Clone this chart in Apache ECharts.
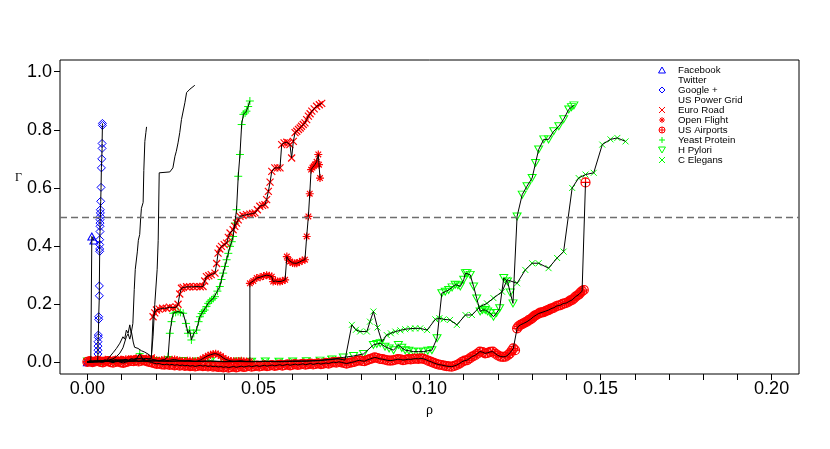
<!DOCTYPE html>
<html><head><meta charset="utf-8">
<script src="https://cdn.jsdelivr.net/npm/echarts@6/dist/echarts.min.js"></script>
<style>html,body{margin:0;padding:0;background:#fff}#c{width:830px;height:449px}</style>
</head><body><div id="c"></div><script>
// ---- tick values ----
const xTickValues = [0,0.01,0.02,0.03,0.04,0.05,0.06,0.07,0.08,0.09,0.1,0.11,0.12,0.13,0.14,0.15,0.16,0.17,0.18,0.19,0.2];
const xLabelValues = [0,0.05,0.1,0.15,0.2];
const yTickValues = [0,0.2,0.4,0.6,0.8,1.0];
const threshold = 0.5;

// ---- series data [rho, Gamma] ----
const facebook = [[0,0],[0.0005,0.002],[0.001,0.001],[0.0013,0.004],[0.0013,0.433],[0.0019,0.419]];
const twitter = [[0,0],[0.002,0.002],[0.004,0.001],[0.0055,0.006],[0.0065,0.019],[0.0075,0.033],[0.0085,0.048],[0.0095,0.066],[0.0104,0.088],[0.0109,0.08],[0.0114,0.111],[0.0119,0.1],[0.0124,0.129],[0.0128,0.1],[0.0133,0.134],[0.0137,0.25],[0.014,0.32],[0.0146,0.38],[0.0149,0.42],[0.0153,0.44],[0.0156,0.5],[0.0158,0.53],[0.0163,0.55],[0.0165,0.66],[0.0168,0.76],[0.0171,0.79],[0.0173,0.81]];
const googlePlus = [[0,0.001],[0.0015,0.002],[0.003,0.002],[0.0031,0.029],[0.0031,0.042],[0.0031,0.056],[0.0031,0.071],[0.0032,0.086],[0.0032,0.094],[0.0033,0.148],[0.0033,0.157],[0.0035,0.229],[0.0035,0.263],[0.0036,0.382],[0.0036,0.39],[0.0036,0.405],[0.0036,0.422],[0.0037,0.45],[0.0037,0.468],[0.0037,0.479],[0.0037,0.491],[0.0038,0.502],[0.0038,0.514],[0.0038,0.525],[0.0039,0.554],[0.004,0.602],[0.0041,0.669],[0.0042,0.70],[0.0043,0.736],[0.0043,0.753],[0.0044,0.815],[0.0044,0.822]];
const usPowerGrid = [[0,0],[0.003,0.002],[0.005,0.005],[0.0075,0.012],[0.0085,0.02],[0.0095,0.032],[0.0104,0.05],[0.0114,0.088],[0.0119,0.098],[0.0124,0.08],[0.0129,0.104],[0.0134,0.07],[0.0138,0.052],[0.0148,0.048],[0.0158,0.04],[0.0168,0.035],[0.0178,0.028],[0.0187,0.02],[0.0192,0.09],[0.0197,0.2],[0.0204,0.32],[0.0207,0.42],[0.021,0.652],[0.0241,0.655],[0.025,0.669],[0.0256,0.709],[0.026,0.726],[0.0265,0.755],[0.027,0.79],[0.0275,0.835],[0.0285,0.893],[0.029,0.928],[0.030,0.94],[0.0314,0.953]];
const euroRoad = [[0,0.002],[0.001,0.005],[0.002,0.003],[0.003,0.006],[0.004,0.004],[0.005,0.007],[0.006,0.005],[0.007,0.008],[0.008,0.006],[0.009,0.009],[0.010,0.007],[0.011,0.01],[0.012,0.008],[0.013,0.012],[0.014,0.01],[0.015,0.013],[0.016,0.011],[0.017,0.014],[0.018,0.012],[0.0187,0.015],
[0.0192,0.157],[0.0197,0.17],[0.0202,0.18],[0.021,0.183],[0.022,0.186],[0.0231,0.186],[0.024,0.19],[0.025,0.188],[0.026,0.19],[0.0265,0.2],[0.027,0.235],[0.0275,0.255],[0.028,0.258],[0.029,0.26],[0.0299,0.26],[0.031,0.26],[0.032,0.261],[0.033,0.26],[0.0338,0.261],[0.0343,0.28],[0.0348,0.295],[0.0355,0.298],[0.0362,0.302],[0.0373,0.307],[0.0378,0.34],[0.0382,0.376],[0.0387,0.39],[0.0392,0.399],[0.04,0.405],[0.0407,0.41],[0.0412,0.43],[0.0417,0.445],[0.0426,0.456],[0.0431,0.468],[0.0436,0.479],[0.0441,0.49],[0.0446,0.502],[0.0455,0.505],[0.0465,0.508],[0.0475,0.51],[0.0483,0.512],[0.049,0.514],[0.0497,0.525],[0.0504,0.537],[0.0512,0.54],[0.0519,0.542],[0.0524,0.56],[0.0529,0.588],[0.0534,0.62],[0.0539,0.657],[0.0548,0.669],[0.0556,0.669],[0.0563,0.669],[0.0568,0.749],[0.0575,0.755],[0.0583,0.757],[0.0588,0.755],[0.0592,0.749],[0.0597,0.703],[0.0602,0.76],[0.0607,0.79],[0.0612,0.795],[0.0617,0.801],[0.0622,0.806],[0.0626,0.812],[0.0631,0.818],[0.0636,0.824],[0.0641,0.835],[0.0646,0.847],[0.0651,0.855],[0.0656,0.864],[0.0663,0.872],[0.067,0.881],[0.0678,0.886],[0.0685,0.891]];
const openFlight = [[0,0.002],[0.00075,0.005],[0.0015,0.004],[0.00225,0.006],[0.003,0.003],[0.00375,0.007],[0.0045,0.006],[0.00525,0.009],[0.006,0.004],[0.00675,0.008],[0.0075,0.007],[0.00825,0.01],[0.009,0.005],[0.00975,0.009],[0.0105,0.008],[0.01125,0.011],[0.012,0.006],[0.01275,0.012],[0.0135,0.01],[0.01425,0.014],[0.015,0.012],[0.01575,0.015],[0.0165,0.009],[0.01725,0.013],[0.018,0.011],[0.01875,0.012],[0.0195,0.008],[0.02025,0.007],[0.021,0.006],[0.02175,0.008],[0.0225,0.009],[0.02325,0.006],[0.024,0.007],[0.02475,0.009],[0.0255,0.01],[0.02625,0.008],[0.027,0.006],[0.02775,0.005],[0.0285,0.004],[0.02925,0.006],[0.03,0.006],[0.03075,0.004],[0.0315,0.003],[0.03225,0.005],[0.033,0.008],[0.03375,0.013],[0.0345,0.018],[0.03525,0.023],[0.036,0.026],[0.03675,0.029],[0.0375,0.03],[0.03825,0.027],[0.039,0.022],[0.03975,0.015],[0.0405,0.01],[0.04125,0.007],[0.042,0.005],[0.04275,0.004],[0.0435,0.004],[0.04425,0.005],[0.045,0.006],[0.04575,0.004],[0.0465,0.003],[0.0475,0.004],
[0.0475,0.272],[0.0485,0.28],[0.0495,0.29],[0.0505,0.293],[0.0515,0.297],[0.0524,0.30],[0.0532,0.298],[0.0539,0.295],[0.0543,0.278],[0.055,0.28],[0.0556,0.278],[0.0563,0.278],[0.057,0.28],[0.0578,0.284],[0.0583,0.364],[0.0588,0.352],[0.0592,0.347],[0.06,0.342],[0.0606,0.341],[0.0612,0.341],[0.062,0.345],[0.0628,0.35],[0.0636,0.353],[0.0641,0.433],[0.0646,0.502],[0.065,0.58],[0.0654,0.663],[0.0658,0.67],[0.0662,0.675],[0.0665,0.68],[0.067,0.69],[0.0675,0.715],[0.0677,0.68],[0.068,0.634]];
const usAirports = [[0,0.002],[0.00075,0.004],[0.0015,0.001],[0.00225,0.003],[0.003,0.005],[0.00375,0.002],[0.0045,0.0],[0.00525,0.003],[0.006,0.004],[0.00675,0.001],[0.0075,-0.001],[0.00825,0.002],[0.009,0.003],[0.00975,0.0],[0.0105,-0.002],[0.01125,0.001],[0.012,0.003],[0.01275,0.005],[0.0135,0.004],[0.01425,0.007],[0.015,0.003],[0.01575,0.006],[0.0165,0.008],[0.01725,0.004],[0.018,0.002],[0.01875,0.0],[0.0195,-0.003],[0.02025,-0.005],[0.021,-0.004],[0.02175,-0.007],[0.0225,-0.008],[0.02325,-0.006],[0.024,-0.009],[0.02475,-0.007],[0.0255,-0.01],[0.02625,-0.008],[0.027,-0.011],[0.02775,-0.009],[0.0285,-0.012],[0.02925,-0.01],[0.03,-0.013],[0.03075,-0.011],[0.0315,-0.014],[0.03225,-0.012],[0.033,-0.01],[0.03375,-0.013],[0.0345,-0.011],[0.03525,-0.014],[0.036,-0.012],[0.03675,-0.015],[0.0375,-0.013],[0.03825,-0.016],[0.039,-0.014],[0.03975,-0.017],[0.0405,-0.015],[0.04125,-0.018],[0.042,-0.016],[0.04275,-0.014],[0.0435,-0.017],[0.04425,-0.015],[0.045,-0.013],[0.04575,-0.016],[0.0465,-0.014],[0.04725,-0.012],[0.048,-0.015],[0.04875,-0.013],[0.0495,-0.011],[0.05025,-0.014],[0.051,-0.012],[0.05175,-0.01],[0.0525,-0.013],[0.05325,-0.011],[0.054,-0.009],[0.05475,-0.012],[0.0555,-0.01],[0.05625,-0.008],[0.057,-0.011],[0.05775,-0.009],[0.0585,-0.007],[0.05925,-0.01],[0.06,-0.008],[0.06075,-0.006],[0.0615,-0.009],[0.06225,-0.007],[0.063,-0.005],[0.06375,-0.008],[0.0645,-0.006],[0.06525,-0.004],[0.066,-0.007],[0.06675,-0.005],[0.0675,-0.003],[0.06825,-0.006],[0.069,-0.004],[0.06975,-0.002],[0.0705,-0.004],[0.07125,-0.001],[0.072,0.001],[0.07275,-0.001],[0.0735,0.002],[0.07425,0.0],[0.075,-0.002],[0.07575,-0.004],[0.0765,-0.002],[0.07725,0.0],[0.078,0.002],[0.07875,0.005],[0.0795,0.007],[0.08025,0.005],[0.081,0.004],[0.08175,0.008],[0.0825,0.011],[0.08325,0.014],[0.084,0.017],[0.08475,0.015],[0.0855,0.012],[0.08625,0.011],[0.087,0.009],[0.08775,0.007],[0.0885,0.006],[0.08925,0.007],[0.09,0.009],[0.09075,0.011],[0.0915,0.01],[0.09225,0.008],[0.093,0.009],[0.09375,0.011],[0.0945,0.01],[0.09525,0.012],[0.096,0.013],[0.09675,0.012],[0.0975,0.014],[0.09825,0.012],[0.099,0.009],[0.09975,0.005],[0.1005,0.002],[0.10125,-0.002],[0.102,-0.005],[0.10275,-0.008],[0.1035,-0.009],[0.10425,-0.011],[0.105,-0.013],[0.10575,-0.014],[0.1065,-0.015],[0.10725,-0.012],[0.108,-0.009],[0.10875,-0.004],[0.1095,0.002],[0.11025,0.006],[0.111,0.008],[0.11175,0.014],[0.1125,0.02],[0.11325,0.024],[0.114,0.03],[0.11475,0.037],[0.1155,0.035],[0.11625,0.031],[0.117,0.033],[0.11775,0.036],[0.1185,0.037],[0.11925,0.03],[0.12,0.024],[0.12075,0.02],[0.1215,0.019],[0.12225,0.02],[0.123,0.026],[0.1235,0.031],[0.124,0.04],[0.1245,0.048],[0.125,0.042],
[0.1256,0.117],[0.126,0.124],[0.1266,0.129],[0.1271,0.132],[0.1275,0.134],[0.128,0.138],[0.1285,0.14],[0.129,0.145],[0.1295,0.148],[0.13,0.152],[0.1304,0.157],[0.1308,0.161],[0.1312,0.163],[0.1319,0.168],[0.1324,0.171],[0.1329,0.172],[0.1334,0.173],[0.1339,0.176],[0.1344,0.179],[0.1348,0.18],[0.1353,0.184],[0.1358,0.186],[0.1364,0.188],[0.137,0.193],[0.1376,0.195],[0.1383,0.197],[0.1389,0.201],[0.1395,0.203],[0.1401,0.205],[0.1407,0.209],[0.1412,0.213],[0.1417,0.215],[0.1422,0.22],[0.1427,0.226],[0.1432,0.23],[0.1437,0.234],[0.1441,0.24],[0.1446,0.245],[0.1451,0.249],[0.1456,0.619]];
const yeastProtein = [[0,0.003],[0.002,0.004],[0.004,0.003],[0.006,0.005],[0.008,0.004],[0.010,0.006],[0.012,0.004],[0.014,0.006],[0.0153,0.03],[0.0165,0.005],[0.018,0.006],[0.0195,0.009],[0.021,0.005],[0.0225,0.009],[0.0236,0.02],[0.0241,0.1],[0.0246,0.14],[0.0251,0.169],[0.0258,0.172],[0.0265,0.175],[0.0272,0.172],[0.028,0.169],[0.0288,0.134],[0.0294,0.1],[0.0299,0.111],[0.0304,0.077],[0.0311,0.1],[0.0319,0.111],[0.0325,0.14],[0.0329,0.157],[0.0334,0.168],[0.0338,0.175],[0.0343,0.18],[0.0348,0.192],[0.0353,0.203],[0.0358,0.21],[0.0363,0.215],[0.0368,0.22],[0.0373,0.226],[0.038,0.245],[0.0387,0.261],[0.0392,0.285],[0.0397,0.307],[0.0402,0.33],[0.0407,0.353],[0.0412,0.375],[0.0417,0.399],[0.0422,0.415],[0.0426,0.433],[0.0431,0.479],[0.0436,0.525],[0.0441,0.64],[0.0446,0.715],[0.0451,0.818],[0.0456,0.853],[0.0461,0.858],[0.0465,0.864],[0.047,0.88],[0.0475,0.899]];
const hPylori = [[0,0.003],[0.004,0.004],[0.008,0.003],[0.012,0.005],[0.016,0.004],[0.02,0.005],[0.024,0.004],[0.028,0.005],[0.032,0.003],[0.036,0.004],[0.04,0.002],[0.044,0.003],[0.048,0.002],[0.052,0.003],[0.056,0.002],[0.06,0.003],[0.064,0.004],[0.068,0.006],[0.0715,0.01],[0.0748,0.017],[0.0778,0.022],[0.0807,0.029],[0.0836,0.06],[0.0846,0.063],[0.0856,0.066],[0.087,0.054],[0.0882,0.048],[0.0895,0.042],[0.0909,0.06],[0.0919,0.05],[0.0929,0.042],[0.094,0.04],[0.0953,0.037],[0.0968,0.037],[0.0982,0.037],[0.0995,0.04],[0.1007,0.042],[0.1022,0.083],[0.1036,0.238],[0.1046,0.243],[0.1056,0.249],[0.1066,0.258],[0.1075,0.267],[0.1083,0.265],[0.109,0.261],[0.11,0.284],[0.1105,0.307],[0.111,0.307],[0.1119,0.301],[0.1129,0.261],[0.1138,0.22],[0.1148,0.175],[0.1155,0.18],[0.1163,0.18],[0.117,0.175],[0.1178,0.169],[0.1187,0.157],[0.1196,0.17],[0.1205,0.186],[0.1217,0.29],[0.1228,0.278],[0.1236,0.24],[0.1244,0.203],[0.1256,0.502],[0.1271,0.577],[0.1285,0.606],[0.13,0.634],[0.131,0.686],[0.1319,0.732],[0.1334,0.767],[0.1348,0.767],[0.1363,0.795],[0.1378,0.812],[0.1392,0.836],[0.1407,0.87],[0.1415,0.878],[0.1422,0.884]];
const cElegans = [[0,0.003],[0.004,0.004],[0.008,0.003],[0.012,0.005],[0.016,0.004],[0.02,0.005],[0.024,0.004],[0.028,0.005],[0.032,0.004],[0.036,0.005],[0.04,0.003],[0.044,0.004],[0.048,0.003],[0.052,0.004],[0.056,0.003],[0.06,0.005],[0.064,0.005],[0.068,0.007],[0.071,0.011],[0.0733,0.012],[0.0753,0.008],[0.0773,0.129],[0.0785,0.112],[0.0797,0.106],[0.0817,0.106],[0.0826,0.14],[0.0836,0.175],[0.0848,0.12],[0.0861,0.071],[0.0875,0.094],[0.0887,0.1],[0.09,0.106],[0.0915,0.11],[0.0929,0.114],[0.0944,0.116],[0.0958,0.117],[0.0973,0.117],[0.0993,0.111],[0.1017,0.148],[0.1029,0.152],[0.1041,0.148],[0.106,0.146],[0.108,0.129],[0.1105,0.163],[0.1124,0.163],[0.1148,0.192],[0.1168,0.203],[0.1187,0.221],[0.1212,0.243],[0.1227,0.284],[0.1256,0.272],[0.128,0.318],[0.13,0.341],[0.1319,0.341],[0.1348,0.324],[0.1373,0.359],[0.1392,0.381],[0.1417,0.6],[0.1436,0.634],[0.1456,0.646],[0.148,0.652],[0.1505,0.749],[0.1529,0.767],[0.1549,0.772],[0.1573,0.76]];

const legendNames = ['Facebook','Twitter','Google +','US Power Grid','Euro Road','Open Flight','US Airports','Yeast Protein','H Pylori','C Elegans'];

// ---- styling ----
const BLUE = '#0000ff', RED = '#ff0000', GREEN = '#00ff00';
const SYM = {
  triUp: 'path://M5,0L10,8.66L0,8.66Z',
  triDown: 'path://M0,0L10,0L5,8.66Z',
  diamond: 'path://M5,0L10,5L5,10L0,5Z',
  cross: 'path://M0,0L10,10M10,0L0,10',
  plus: 'path://M5,0L5,10M0,5L10,5',
  star: 'path://M5,0L5,10M0,5L10,5M1.5,1.5L8.5,8.5M8.5,1.5L1.5,8.5',
  circlePlus: 'path://M0,5A5,5,0,1,1,10,5A5,5,0,1,1,0,5ZM5,0L5,10M0,5L10,5',
  none: 'none'
};
// draw order (lineFirst: black line drawn under the markers)
const layers = [
  {name:'Yeast Protein', data: yeastProtein, sym: SYM.plus, size:[8,8], color: GREEN, bw: 1},
  {name:'H Pylori', data: hPylori, sym: SYM.triDown, size:[8,7], color: GREEN, bw: 1},
  {name:'C Elegans', data: cElegans, sym: SYM.cross, size:[6,6], color: GREEN, bw: 1},
  {name:'Twitter', data: twitter, sym: null},
  {name:'US Power Grid', data: usPowerGrid, sym: null},
  {name:'Facebook', data: facebook, sym: SYM.triUp, size:[8,7], color: BLUE, bw: 1, lineFirst: true},
  {name:'Google +', data: googlePlus, sym: SYM.diamond, size:[8,8], color: BLUE, bw: 1, lineFirst: true},
  {name:'Euro Road', data: euroRoad, sym: SYM.cross, size:[7,7], color: RED, bw: 1.2},
  {name:'Open Flight', data: openFlight, sym: SYM.star, size:[8,8], color: RED, bw: 1.2},
  {name:'US Airports', data: usAirports, sym: SYM.circlePlus, size:[9,9], color: RED, bw: 1.2}
];
const legendIcon = {
  'Facebook':[SYM.triUp,BLUE],'Twitter':[SYM.none,'#000'],'Google +':[SYM.diamond,BLUE],'US Power Grid':[SYM.none,'#000'],
  'Euro Road':[SYM.cross,RED],'Open Flight':[SYM.star,RED],'US Airports':[SYM.circlePlus,RED],
  'Yeast Protein':[SYM.plus,GREEN],'H Pylori':[SYM.triDown,GREEN],'C Elegans':[SYM.cross,GREEN]
};

const series = [];
layers.forEach((L, i) => {
  const lineSeries = {
    name: L.sym ? L.name + ' line' : L.name, type: 'line', data: L.data, symbol: 'none', showSymbol: false,
    lineStyle: {color: '#000', width: 1}, itemStyle: {color: '#000'}, silent: true, animation: false,
    markLine: i === 0 ? {
      silent: true, symbol: 'none', label: {show: false}, animation: false,
      lineStyle: {type: [7, 4], color: '#6e6e6e', width: 1.3},
      data: [{yAxis: threshold}]
    } : undefined
  };
  const markSeries = L.sym ? {
    name: L.name, type: 'scatter', data: L.data, symbol: L.sym, symbolSize: L.size,
    itemStyle: {color: 'rgba(0,0,0,0)', borderColor: L.color, borderWidth: L.bw, opacity: 1},
    silent: true, animation: false
  } : null;
  if (L.lineFirst) { series.push(lineSeries); if (markSeries) series.push(markSeries); }
  else { if (markSeries) series.push(markSeries); series.push(lineSeries); }
});

const chart = echarts.init(document.getElementById('c'), null, {renderer: 'canvas'});
chart.setOption({
  animation: false,
  backgroundColor: '#fff',
  grid: {left: 60, right: 31, top: 60, bottom: 75, show: true, borderColor: '#000', borderWidth: 1, backgroundColor: 'rgba(0,0,0,0)'},
  xAxis: {
    type: 'value', min: -0.008, max: 0.208,
    axisLine: {show: false, onZero: false}, splitLine: {show: false},
    axisTick: {show: true, inside: false, length: 6, customValues: xTickValues, lineStyle: {color: '#000', width: 1}},
    axisLabel: {show: true, customValues: xLabelValues, formatter: v => Number(v).toFixed(2), fontSize: 18, color: '#000', margin: 6, fontFamily: 'Liberation Sans'},
    name: 'ρ', nameLocation: 'middle', nameGap: 27,
    nameTextStyle: {fontSize: 14, color: '#000', fontFamily: 'Liberation Serif'}
  },
  yAxis: {
    type: 'value', min: -0.04, max: 1.04,
    axisLine: {show: false, onZero: false}, splitLine: {show: false},
    axisTick: {show: true, inside: false, length: 6, customValues: yTickValues, lineStyle: {color: '#000', width: 1}},
    axisLabel: {show: true, customValues: yTickValues, formatter: v => Number(v).toFixed(1), fontSize: 18, color: '#000', margin: 8, fontFamily: 'Liberation Sans'}
  },
  graphic: [{type: 'text', left: 15, top: 172, style: {text: 'Γ', font: '12px "Liberation Serif"', fill: '#000'}}],
  legend: {
    orient: 'vertical', left: 651, top: 65, padding: 0, itemGap: 0, itemWidth: 22, itemHeight: 6,
    selectedMode: false, symbolKeepAspect: true,
    textStyle: {fontSize: 9.7, lineHeight: 9.75, color: '#000', fontFamily: 'Liberation Sans'},
    data: legendNames.map(n => ({
      name: n, icon: legendIcon[n][0],
      itemStyle: {color: 'rgba(0,0,0,0)', borderColor: legendIcon[n][1], borderWidth: 1}
    }))
  },
  series: series
});
</script></body></html>
